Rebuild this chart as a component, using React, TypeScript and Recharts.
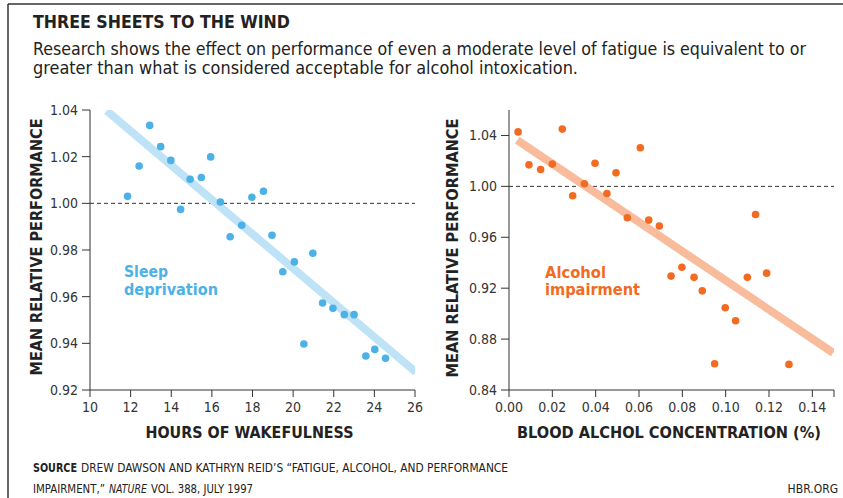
import React from 'react';
import { ScatterChart, Scatter, XAxis, YAxis, ReferenceLine } from 'recharts';

// ---- Data ----
const sleepHours = [11.85, 12.42, 12.94, 13.48, 13.98, 14.46, 14.93, 15.48, 15.94, 16.42, 16.9, 17.47, 17.97, 18.54, 18.96, 19.49, 20.06, 20.53, 20.97, 21.45, 21.96, 22.52, 23.0, 23.58, 24.02, 24.55];
const sleepPerf = [1.003, 1.016, 1.0334, 1.0243, 1.0184, 0.9974, 1.0103, 1.0111, 1.0199, 1.0006, 0.9857, 0.9906, 1.0026, 1.0052, 0.9863, 0.9707, 0.9749, 0.9397, 0.9786, 0.9573, 0.955, 0.9523, 0.9523, 0.9346, 0.9374, 0.9336];
const sleepTrendX = [10.82, 26.05];
const sleepTrendY = [1.0397, 0.9276];

const bac = [0.0042, 0.0092, 0.0146, 0.02, 0.0246, 0.0294, 0.0348, 0.0397, 0.0452, 0.0494, 0.0546, 0.0606, 0.0645, 0.0694, 0.0748, 0.0798, 0.0854, 0.0892, 0.0949, 0.0998, 0.1046, 0.11, 0.1138, 0.1189, 0.1292];
const alcPerf = [1.0428, 1.0169, 1.0133, 1.0175, 1.045, 0.9926, 1.002, 1.0182, 0.9944, 1.0106, 0.9753, 1.0303, 0.9735, 0.9688, 0.9295, 0.9365, 0.9285, 0.9179, 0.8606, 0.9046, 0.8944, 0.9285, 0.9779, 0.9318, 0.8601];
const alcTrendX = [0.0038, 0.1496];
const alcTrendY = [1.0363, 0.8692];

const sleepXTicks = [10, 12, 14, 16, 18, 20, 22, 24, 26];
const sleepYTicks = [0.92, 0.94, 0.96, 0.98, 1.0, 1.02, 1.04];
const alcXTicks = [0, 0.02, 0.04, 0.06, 0.08, 0.1, 0.12, 0.14, 0.15];
const alcYTicks = [0.84, 0.88, 0.92, 0.96, 1.0, 1.04];

const sleepData = sleepHours.map((x, i) => ({ x, y: sleepPerf[i] }));
const sleepTrend = sleepTrendX.map((x, i) => ({ x, y: sleepTrendY[i] }));
const alcData = bac.map((x, i) => ({ x, y: alcPerf[i] }));
const alcTrend = alcTrendX.map((x, i) => ({ x, y: alcTrendY[i] }));

const FONT = "'Liberation Sans Narrow', 'DejaVu Sans Condensed', 'Roboto', sans-serif";
const INK = '#333333';
const BLUE = '#4cb1e6';
const BLUE_LIGHT = '#bfe3f6';
const ORANGE = '#f26b21';
const ORANGE_LIGHT = '#f8bb9b';

const tickStyle = { fill: INK, fontSize: 14, fontFamily: FONT };

const dot = (color: string) => (props: any) => (
  <circle cx={props.cx} cy={props.cy} r={3.8} fill={color} />
);
const noDot = () => <g />;

const fmt2 = (v: number) => v.toFixed(2);

export default function App() {
  return (
    <div style={{ position: 'absolute', left: 0, top: 0, width: 843, height: 498, background: '#fff', overflow: 'hidden' }}>
      <div style={{ position: 'absolute', left: 0, top: 0 }}>
        <ScatterChart width={440} height={498} margin={{ top: 110, right: 25, left: 30, bottom: 78 }}>
          <XAxis
            type="number"
            dataKey="x"
            domain={[10, 26]}
            ticks={sleepXTicks}
            allowDataOverflow
            tickSize={7}
            tickMargin={5}
            height={30}
            axisLine={{ stroke: INK }}
            tickLine={{ stroke: INK }}
            tick={tickStyle}
            interval={0}
          />
          <YAxis
            type="number"
            dataKey="y"
            domain={[0.92, 1.04]}
            ticks={sleepYTicks}
            allowDataOverflow
            tickSize={8}
            tickMargin={4}
            width={60}
            axisLine={{ stroke: INK }}
            tickLine={{ stroke: INK }}
            tick={tickStyle}
            tickFormatter={fmt2}
            interval={0}
          />
          <ReferenceLine y={1} stroke={INK} strokeDasharray="4 3" strokeWidth={1} />
          <Scatter data={sleepTrend} line={{ stroke: BLUE_LIGHT, strokeWidth: 8 }} shape={noDot} isAnimationActive={false} />
          <Scatter data={sleepData} shape={dot(BLUE)} isAnimationActive={false} />
        </ScatterChart>
      </div>
      <div style={{ position: 'absolute', left: 421, top: 0 }}>
        <ScatterChart width={422} height={498} margin={{ top: 110, right: 9, left: 28, bottom: 78 }}>
          <XAxis
            type="number"
            dataKey="x"
            domain={[0, 0.15]}
            ticks={alcXTicks}
            allowDataOverflow
            tickSize={7}
            tickMargin={5}
            height={30}
            axisLine={{ stroke: INK }}
            tickLine={{ stroke: INK }}
            tick={tickStyle}
            tickFormatter={(v: number) => (v > 0.145 ? '' : v.toFixed(2))}
            interval={0}
          />
          <YAxis
            type="number"
            dataKey="y"
            domain={[0.84, 1.06]}
            ticks={alcYTicks}
            allowDataOverflow
            tickSize={8}
            tickMargin={4}
            width={60}
            axisLine={{ stroke: INK }}
            tickLine={{ stroke: INK }}
            tick={tickStyle}
            tickFormatter={fmt2}
            interval={0}
          />
          <ReferenceLine y={1} stroke={INK} strokeDasharray="4 3" strokeWidth={1} />
          <Scatter data={alcTrend} line={{ stroke: ORANGE_LIGHT, strokeWidth: 8 }} shape={noDot} isAnimationActive={false} />
          <Scatter data={alcData} shape={dot(ORANGE)} isAnimationActive={false} />
        </ScatterChart>
      </div>
      <svg width={843} height={498} style={{ position: 'absolute', left: 0, top: 0, pointerEvents: 'none' }} fontFamily={FONT}>
        <line x1={8} y1={4} x2={843} y2={4} stroke={INK} strokeWidth={1.5} />
        <line x1={8} y1={4} x2={8} y2={498} stroke={INK} strokeWidth={1.5} />
        <text x={33} y={28} fontSize={18} fontWeight="bold" fill="#222" textLength={257} lengthAdjust="spacingAndGlyphs">THREE SHEETS TO THE WIND</text>
        <text x={33} y={55} fontSize={17.5} fill="#222" textLength={773} lengthAdjust="spacingAndGlyphs">Research shows the effect on performance of even a moderate level of fatigue is equivalent to or</text>
        <text x={33} y={74} fontSize={17.5} fill="#222" textLength={545} lengthAdjust="spacingAndGlyphs">greater than what is considered acceptable for alcohol intoxication.</text>

        <text transform="translate(41.5,247) rotate(-90)" textAnchor="middle" fontSize={16} fontWeight="bold" fill="#222" textLength={257} lengthAdjust="spacingAndGlyphs">MEAN RELATIVE PERFORMANCE</text>
        <text transform="translate(457.5,248) rotate(-90)" textAnchor="middle" fontSize={16} fontWeight="bold" fill="#222" textLength={259} lengthAdjust="spacingAndGlyphs">MEAN RELATIVE PERFORMANCE</text>

        <text x={249.5} y={438} textAnchor="middle" fontSize={16} fontWeight="bold" fill="#222" textLength={208} lengthAdjust="spacingAndGlyphs">HOURS OF WAKEFULNESS</text>
        <text x={669} y={438} textAnchor="middle" fontSize={16} fontWeight="bold" fill="#222" textLength={304} lengthAdjust="spacingAndGlyphs">BLOOD ALCHOL CONCENTRATION (%)</text>

        <text x={124} y={276.5} fontSize={15.5} fontWeight="bold" fill={BLUE} textLength={44} lengthAdjust="spacingAndGlyphs">Sleep</text>
        <text x={124} y={295} fontSize={15.5} fontWeight="bold" fill={BLUE} textLength={94} lengthAdjust="spacingAndGlyphs">deprivation</text>
        <text x={545} y={277.5} fontSize={16} fontWeight="bold" fill={ORANGE} textLength={61} lengthAdjust="spacingAndGlyphs">Alcohol</text>
        <text x={545} y={295} fontSize={16} fontWeight="bold" fill={ORANGE} textLength={95} lengthAdjust="spacingAndGlyphs">impairment</text>

        <text x={33} y={472} fontSize={12} fontWeight="bold" fill="#222" textLength={44} lengthAdjust="spacingAndGlyphs">SOURCE</text>
        <text x={81} y={472} fontSize={12} fill="#222" textLength={427} lengthAdjust="spacingAndGlyphs">DREW DAWSON AND KATHRYN REID’S “FATIGUE, ALCOHOL, AND PERFORMANCE</text>
        <text x={33} y={493} fontSize={12} fill="#222" textLength={72} lengthAdjust="spacingAndGlyphs">IMPAIRMENT,”</text>
        <text x={109} y={493} fontSize={12} fontStyle="italic" fill="#222" textLength={38} lengthAdjust="spacingAndGlyphs">NATURE</text>
        <text x={151} y={493} fontSize={12} fill="#222" textLength={102} lengthAdjust="spacingAndGlyphs">VOL. 388, JULY 1997</text>
        <text x={838} y={493} textAnchor="end" fontSize={12} fill="#222">HBR.ORG</text>
      </svg>
    </div>
  );
}
